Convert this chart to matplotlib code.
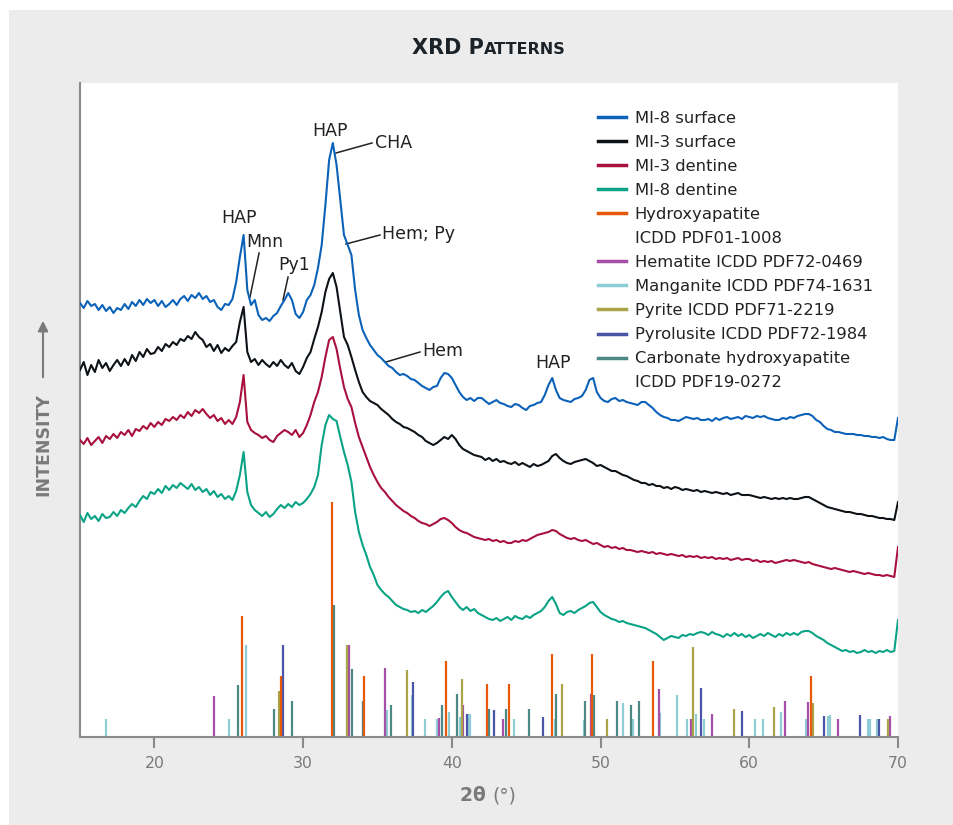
import numpy as np
import matplotlib.pyplot as plt
from matplotlib.lines import Line2D
from matplotlib.patches import Rectangle, FancyArrowPatch

# 2-theta grid (degrees) and intensities (arbitrary units)
two_theta = np.arange(15, 70.001, 0.25)

mi8_surface = [
    434, 429, 436, 431, 433, 427, 432, 426, 430, 424, 429, 427, 433, 428, 435, 431,
    437, 432, 438, 434, 437, 431, 436, 430, 433, 437, 432, 438, 441, 436, 442, 439,
    444, 438, 441, 435, 437, 430, 427, 433, 432, 438, 455, 480, 502, 447, 432, 437,
    422, 417, 419, 416, 421, 424, 431, 437, 444, 437, 423, 419, 425, 437, 442, 452,
    469, 492, 532, 577, 594, 572, 537, 502, 492, 482, 447, 422, 407, 399, 392, 387,
    382, 379, 375, 371, 369, 365, 362, 363, 361, 358, 357, 354, 351, 349, 347, 350,
    351, 359, 364, 363, 359, 352, 345, 340, 337, 339, 336, 339, 339, 336, 333, 335,
    337, 334, 333, 331, 330, 333, 332, 329, 327, 331, 332, 334, 335, 342, 352, 359,
    347, 339, 337, 336, 335, 338, 339, 341, 347, 357, 359, 345, 339, 336, 335, 338,
    339, 336, 337, 335, 334, 333, 332, 335, 335, 332, 329, 325, 322, 320, 319, 317,
    317, 316, 318, 320, 319, 318, 319, 317, 317, 318, 316, 319, 317, 319, 320, 318,
    319, 320, 318, 321, 320, 319, 321, 320, 321, 319, 318, 317, 317, 319, 318, 320,
    319, 321, 322, 323, 323, 321, 317, 315, 311, 308, 307, 305, 305, 304, 303, 303,
    303, 302, 302, 301, 301, 300, 300, 299, 300, 298, 297, 297, 319,
]

mi3_surface = [
    367, 375, 362, 372, 365, 377, 369, 374, 366, 372, 377, 371, 378, 372, 382, 376,
    385, 380, 388, 383, 384, 390, 386, 393, 390, 395, 392, 398, 396, 401, 398, 405,
    400, 397, 390, 393, 386, 392, 384, 389, 386, 391, 395, 415, 430, 385, 375, 378,
    372, 377, 373, 370, 375, 371, 377, 372, 369, 374, 366, 363, 370, 379, 385, 398,
    410, 425, 445, 458, 464, 450, 425, 400, 392, 380, 367, 355, 345, 340, 336, 334,
    332, 328, 325, 322, 318, 315, 313, 310, 309, 307, 305, 302, 300, 296, 294, 292,
    294, 297, 300, 298, 302, 298, 292, 288, 286, 284, 282, 281, 280, 277, 279, 276,
    278, 275, 276, 274, 273, 275, 272, 274, 272, 270, 273, 271, 272, 274, 276, 281,
    283, 279, 276, 274, 273, 275, 276, 277, 278, 276, 274, 271, 272, 270, 268, 266,
    266, 264, 262, 261, 259, 257, 256, 254, 254, 252, 253, 251, 251, 249, 250, 248,
    250, 249, 247, 248, 247, 246, 247, 245, 246, 245, 244, 245, 244, 243, 244, 242,
    243, 244, 242, 242, 242, 241, 240, 239, 240, 239, 238, 239, 238, 239, 238, 239,
    238, 238, 239, 240, 240, 238, 236, 234, 232, 230, 229, 228, 227, 226, 225, 225,
    224, 223, 223, 222, 221, 221, 220, 219, 219, 218, 218, 217, 235,
]

mi3_dentine = [
    297, 293, 299, 292, 296, 300, 294, 301, 298, 303, 299, 305, 302, 307, 301, 308,
    306, 311, 308, 314, 310, 315, 312, 318, 316, 320, 317, 322, 319, 325, 321, 327,
    324, 328, 323, 319, 322, 316, 319, 313, 317, 313, 320, 335, 362, 315, 307, 304,
    302, 299, 301, 297, 295, 301, 304, 307, 305, 302, 307, 300, 304, 312, 322, 335,
    345, 360, 380, 397, 400, 388, 368, 350, 338, 330, 314, 300, 290, 280, 270, 262,
    255, 249, 245, 240, 236, 232, 229, 226, 224, 221, 219, 216, 214, 213, 211, 213,
    215, 218, 219, 217, 214, 210, 207, 205, 204, 202, 200, 199, 198, 197, 198, 196,
    197, 195, 196, 194, 194, 196, 195, 197, 196, 198, 200, 202, 203, 204, 205, 207,
    206, 203, 201, 199, 198, 199, 197, 196, 197, 195, 193, 194, 192, 190, 191, 189,
    190, 188, 189, 187, 187, 186, 185, 186, 185, 184, 185, 183, 184, 183, 182, 183,
    182, 181, 182, 180, 181, 180, 181, 179, 180, 179, 180, 178, 179, 178, 179, 177,
    178, 179, 177, 178, 178, 176, 177, 175, 176, 175, 176, 174, 175, 176, 177, 176,
    177, 176, 175, 174, 175, 173, 172, 171, 170, 169, 168, 169, 168, 167, 166, 165,
    166, 165, 164, 163, 164, 163, 162, 162, 161, 162, 161, 160, 190,
]

mi8_dentine = [
    222, 215, 224, 218, 221, 216, 223, 219, 220, 225, 221, 227, 224, 229, 233, 230,
    236, 241, 238, 245, 243, 248, 244, 251, 247, 252, 249, 254, 251, 248, 253, 247,
    250, 245, 248, 242, 246, 240, 243, 238, 241, 237, 246, 262, 285, 245, 232, 227,
    224, 221, 225, 220, 223, 228, 232, 229, 233, 230, 235, 232, 234, 238, 243, 250,
    262, 292, 312, 322, 318, 316, 300, 285, 272, 255, 225, 205, 192, 182, 170, 162,
    152, 147, 143, 140, 136, 132, 130, 128, 127, 125, 126, 124, 127, 125, 128, 131,
    135, 140, 144, 146, 140, 135, 130, 127, 130, 126, 128, 124, 122, 120, 118, 117,
    119, 116, 118, 120, 117, 121, 119, 118, 121, 119, 122, 124, 126, 130, 136, 140,
    133, 124, 122, 125, 126, 124, 127, 129, 131, 134, 135, 130, 125, 122, 120, 118,
    117, 115, 116, 114, 113, 112, 111, 110, 109, 107, 105, 103, 100, 97, 99, 101,
    100, 99, 102, 101, 103, 102, 104, 105, 104, 102, 105, 103, 102, 100, 103, 101,
    104, 101, 103, 100, 102, 99, 101, 103, 101, 104, 102, 100, 103, 101, 104, 102,
    104, 102, 105, 106, 106, 104, 101, 99, 97, 94, 92, 90, 88, 86, 87, 85,
    86, 84, 85, 87, 85, 86, 84, 86, 85, 87, 85, 86, 117,
]

series_names = ["MI-8 surface", "MI-3 surface", "MI-3 dentine", "MI-8 dentine"]
series_colors = ["#0b62b8", "#0d1217", "#a8103e", "#0aa386"]

# reference patterns: stick positions (2-theta) and relative heights
hap_pos = [25.87, 28.54, 31.94, 34.10, 39.61, 42.36, 43.84, 46.74, 49.44, 53.50, 64.15]
hap_h = [121, 61, 235, 61, 76, 53, 53, 83, 83, 76, 61]

hem_pos = [24.00, 33.12, 35.50, 39.14, 40.77, 43.42, 49.33, 53.95, 56.08, 57.47,
           62.38, 63.95, 65.96, 69.48]
hem_h = [41, 92, 69, 19, 32, 18, 43, 48, 18, 23, 36, 35, 18, 21]

mnn_pos = [16.73, 25.00, 26.14, 34.03, 35.66, 37.30, 38.20, 38.98, 39.79, 40.53,
           41.13, 41.24, 44.20, 46.92, 48.89, 51.48, 52.09, 52.20, 54.00, 55.16,
           55.83, 56.42, 56.95, 60.38, 60.94, 62.13, 63.81, 65.27, 65.42, 67.96,
           68.11, 68.58]
mnn_h = [18, 18, 92, 35, 27, 42, 18, 18, 25, 20, 23, 23, 18, 18, 17, 34, 18, 18,
         24, 42, 18, 23, 18, 18, 18, 25, 18, 21, 22, 18, 18, 18]

py_pos = [28.40, 32.95, 36.99, 40.68, 47.39, 50.41, 56.24, 58.97, 61.66, 64.28, 69.33]
py_h = [46, 92, 67, 58, 53, 18, 90, 28, 30, 34, 18]

pyl_pos = [28.63, 37.39, 41.02, 42.85, 46.15, 56.75, 59.51, 65.02, 67.44, 68.74]
pyl_h = [92, 55, 23, 27, 20, 49, 26, 21, 22, 18]

cha_pos = [25.62, 28.05, 29.25, 32.07, 33.30, 34.05, 35.90, 39.34, 40.35, 42.47,
           43.64, 45.17, 47.00, 48.93, 49.55, 51.12, 52.02, 52.60]
cha_h = [52, 28, 36, 132, 68, 36, 32, 32, 43, 28, 28, 28, 43, 36, 42, 36, 32, 36]

ref_labels = ["Hydroxyapatite\nICDD PDF01-1008", "Hematite ICDD PDF72-0469",
              "Manganite ICDD PDF74-1631", "Pyrite ICDD PDF71-2219",
              "Pyrolusite ICDD PDF72-1984", "Carbonate hydroxyapatite\nICDD PDF19-0272"]
ref_colors = ["#e8590c", "#a64fa8", "#8fcdd5", "#a9a448", "#4a55a8", "#4d8984"]

text_col = "#222222"
grey = "#7a7a7a"

fig = plt.figure(figsize=(9.54, 8.25), dpi=100, facecolor="#ececec")
fig.patches.append(Rectangle((0, 1 - 10 / 825), 1, 10 / 825, transform=fig.transFigure,
                             facecolor="white", edgecolor="none", zorder=-10))
fig.patches.append(Rectangle((0, 0), 9 / 954, 1, transform=fig.transFigure,
                             facecolor="white", edgecolor="none", zorder=-10))

ax = fig.add_axes([80 / 954, 88 / 825, 818 / 954, 654 / 825])
ax.set_facecolor("white")
ax.set_xlim(15, 70)
ax.set_ylim(0, 654)

# reference sticks
ref_sets = [(hap_pos, hap_h), (hem_pos, hem_h), (mnn_pos, mnn_h),
            (py_pos, py_h), (pyl_pos, pyl_h), (cha_pos, cha_h)]
draw_order = [2, 5, 1, 3, 4, 0]
for i in draw_order:
    pos, h = ref_sets[i]
    ax.vlines(pos, 0, h, colors=ref_colors[i], lw=1.6, zorder=2)

# measured patterns
for ys, c in zip([mi8_surface, mi3_surface, mi3_dentine, mi8_dentine], series_colors):
    ax.plot(two_theta, ys, color=c, lw=1.5, zorder=3)

# peak labels
fs = 12.5
ax.text(25.72, 519, "HAP", ha="center", va="center", fontsize=fs, color=text_col)
ax.text(27.40, 495, "Mnn", ha="center", va="center", fontsize=fs, color=text_col)
ax.plot([27.04, 26.43], [484, 440], color=text_col, lw=1.1)
ax.text(29.42, 472, "Py1", ha="center", va="center", fontsize=fs, color=text_col)
ax.plot([28.99, 28.65], [460, 437], color=text_col, lw=1.1)
ax.text(31.78, 606, "HAP", ha="center", va="center", fontsize=fs, color=text_col)
ax.text(36.11, 594, "CHA", ha="center", va="center", fontsize=fs, color=text_col)
ax.plot([32.21, 34.63], [584, 594], color=text_col, lw=1.1)
ax.text(35.31, 503, "Hem; Py", ha="left", va="center", fontsize=fs, color=text_col)
ax.plot([32.88, 35.17], [493, 502], color=text_col, lw=1.1)
ax.text(38.0, 386, "Hem", ha="left", va="center", fontsize=fs, color=text_col)
ax.plot([35.57, 37.86], [375, 385], color=text_col, lw=1.1)
ax.text(46.80, 374, "HAP", ha="center", va="center", fontsize=fs, color=text_col)

# legend (second lines of long labels get an empty handle)
handles, labels = [], []
for name, c in zip(series_names, series_colors):
    handles.append(Line2D([], [], color=c, lw=2.5))
    labels.append(name)
for lab, c in zip(ref_labels, ref_colors):
    parts = lab.split("\n")
    handles.append(Line2D([], [], color=c, lw=2.5))
    labels.append(parts[0])
    for p in parts[1:]:
        handles.append(Line2D([], [], color="none"))
        labels.append(p)
leg = ax.legend(handles, labels, loc="upper left", bbox_to_anchor=(0.633, 0.957),
                frameon=False, fontsize=11.8, handlelength=1.75, handletextpad=0.5,
                labelspacing=0.55, borderpad=0, borderaxespad=0)
for t in leg.get_texts():
    t.set_color(text_col)

# axes styling
for s in ["top", "right"]:
    ax.spines[s].set_visible(False)
for s in ["left", "bottom"]:
    ax.spines[s].set_color("#8a8a8a")
    ax.spines[s].set_linewidth(1.5)
ax.set_yticks([])
ax.set_xticks([20, 30, 40, 50, 60, 70])
ax.tick_params(axis="x", direction="out", length=8, width=1.5, color="#8a8a8a",
               labelcolor=grey, labelsize=11.3, pad=6)

fig.text(43 / 954, 1 - 445 / 825, "INTENSITY", rotation=90, ha="center", va="center",
         fontsize=12.5, fontweight="bold", color=grey)
fig.patches.append(FancyArrowPatch(
    (43 / 954, 1 - 380 / 825), (43 / 954, 1 - 318 / 825), transform=fig.transFigure,
    arrowstyle="-|>,head_length=6,head_width=3", color=grey, lw=1.5))


def put_parts(parts, xc, y):
    # place consecutive text pieces so the whole group is centred at xc (figure px)
    fig.canvas.draw()
    r = fig.canvas.get_renderer()
    objs = []
    for s, size, weight, col in parts:
        objs.append(fig.text(0, 1 - y / 825, s, fontsize=size, fontweight=weight,
                             color=col, va="baseline", ha="left"))
    widths = [o.get_window_extent(r).width for o in objs]
    x = xc - sum(widths) / 2
    for o, w in zip(objs, widths):
        o.set_x(x / 954)
        x += w


put_parts([("XRD P", 15, "bold", "#1b2329"), ("ATTERNS", 11.5, "bold", "#1b2329")],
          489, 54)
put_parts([("2θ ", 13.5, "bold", grey), ("(°)", 13.5, "normal", grey)], 488, 801)

fig.savefig("out.png", dpi=100, facecolor=fig.get_facecolor())
